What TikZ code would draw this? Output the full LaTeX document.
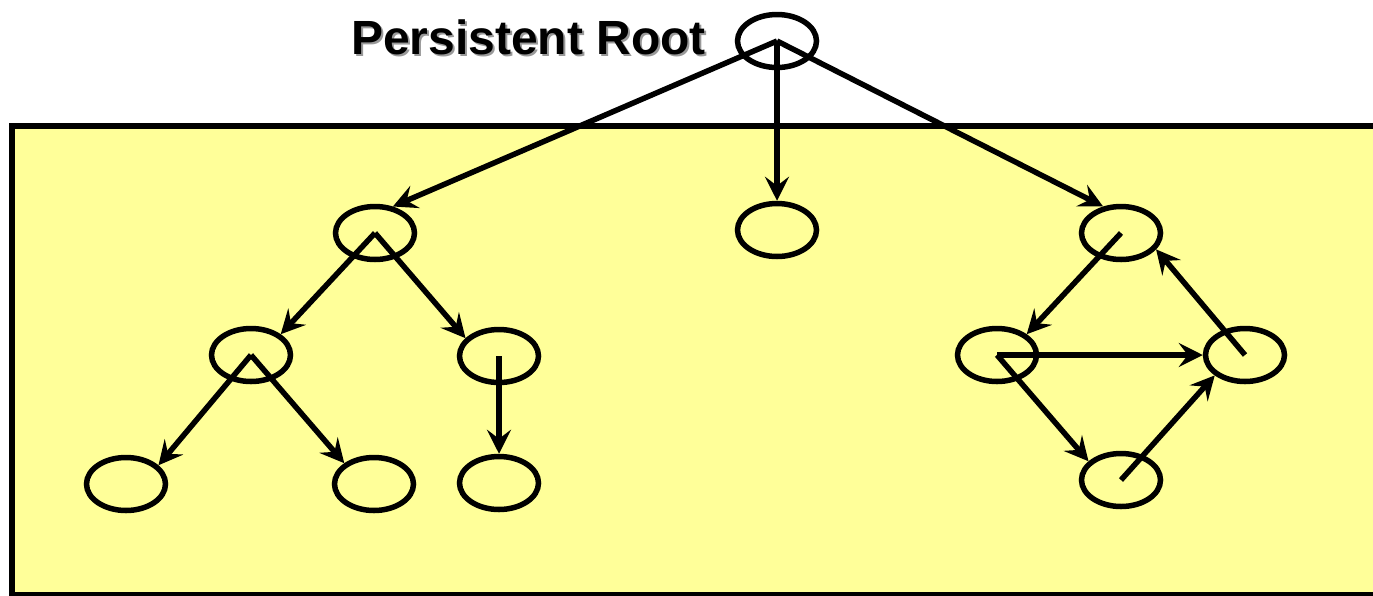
\documentclass[tikz,border=0pt]{standalone}
\usepackage{fontspec}
\newfontfamily\arialfont{Liberation Sans}
\usetikzlibrary{shapes.geometric,arrows.meta}
\definecolor{paleyellow}{HTML}{FFFF99}
\tikzset{
  obj/.style={ellipse, draw=black, line width=5.5pt, minimum width=79pt, minimum height=53pt, inner sep=0pt},
  ptr/.style={line width=5.5pt, -{Stealth[length=24pt,width=24pt,inset=9pt]}},
  heap/.style={line width=6pt, draw=black, fill=paleyellow},
  title/.style={font=\arialfont\bfseries\fontsize{48}{58}\selectfont, inner sep=0pt, anchor=base east}
}
\begin{document}
\begin{tikzpicture}[x=1pt,y=-1pt]
\useasboundingbox (0,0) rectangle (1373,595);
\begin{scope}
\clip (0,0) rectangle (1373,595);
\draw[heap] (12,126) rectangle (1420,595);
\end{scope}
% title with shadow
\node[title, text=black!40] (tshadow) at (708,56) {Persistent Root};
\node[title] (title) at (706,54) {Persistent Root};
% nodes
\node[obj] (root) at (777,41) {};
\node[obj] (L1) at (375,233) {};
\node[obj] (M) at (777,230) {};
\node[obj] (R1) at (1121,233) {};
\node[obj] (L2a) at (251,355) {};
\node[obj] (L2b) at (499,356) {};
\node[obj] (R2a) at (997,355) {};
\node[obj] (R2b) at (1245,355) {};
\node[obj] (L3a) at (126,484) {};
\node[obj] (L3b) at (374,484) {};
\node[obj] (L3c) at (499,483) {};
\node[obj] (R3) at (1121,480) {};
% pointers
\draw[ptr] (root.center) -- (L1.56);
\draw[ptr] (root.center) -- (M.90);
\draw[ptr] (root.center) -- (R1.124);
\draw[ptr] (L1.center) -- (L2a.35);
\draw[ptr] (L1.center) -- (L2b.152);
\draw[ptr] (L2a.center) -- (L3a.30);
\draw[ptr] (L2a.center) -- (L3b.145);
\draw[ptr] (L2b.center) -- (L3c.90);
\draw[ptr] (R1.center) -- (R2a.35);
\draw[ptr] (R2a.center) -- (R2b.180);
\draw[ptr] (R2a.center) -- (R3.150);
\draw[ptr] (R3.center) -- (R2b.214);
\draw[ptr] (R2b.center) -- (R1.-25);
\end{tikzpicture}
\end{document}
